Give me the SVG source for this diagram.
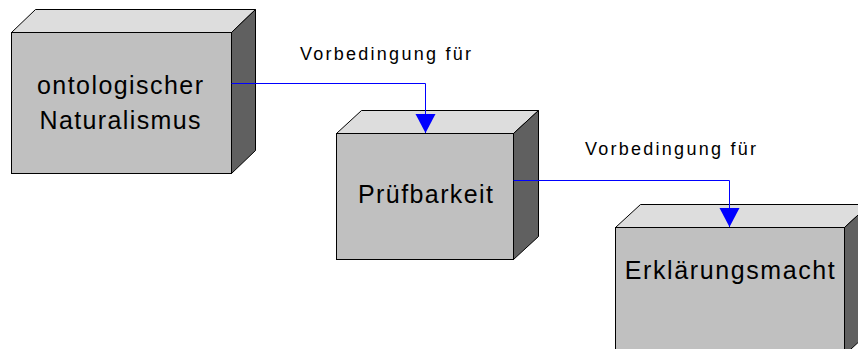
<svg xmlns="http://www.w3.org/2000/svg" width="858" height="349" viewBox="0 0 858 349">
<style>
  .front { fill: #C0C0C0; stroke: #000; stroke-width: 1; }
  .top { fill: #DDDDDD; stroke: #000; stroke-width: 1; stroke-linejoin: miter; }
  .side { fill: #606060; stroke: #000; stroke-width: 1; }
  .ntext { font-family: "Liberation Sans", Arial, sans-serif; font-size: 25px; fill: #000; text-anchor: middle; }
  .ltext { font-family: "Liberation Sans", Arial, sans-serif; font-size: 18px; fill: #000; }
  .conn { fill: none; stroke: #0000FF; stroke-width: 1; marker-end: url(#arrow); }
</style>
<defs>
  <marker id="arrow" markerUnits="userSpaceOnUse" markerWidth="20" markerHeight="21" viewBox="0 0 20 21" refX="19" refY="10.5" orient="auto">
    <path d="M0,0.5 L19,10.5 L0,20.5 z" fill="#0000FF"/>
  </marker>
</defs>
<rect width="858" height="349" fill="#FFFFFF"/>

<g id="node-ontologischer-naturalismus">
  <polygon class="top" points="11.5,32.5 35.5,9.5 255.5,9.5 231.5,32.5"/>
  <polygon class="side" points="231.5,32.5 255.5,9.5 255.5,150.5 231.5,173.5"/>
  <rect class="front" x="11.5" y="32.5" width="220" height="141"/>
  <text class="ntext" x="120" y="93.5" textLength="166" lengthAdjust="spacing">ontologischer</text>
  <text class="ntext" x="120" y="129" textLength="161" lengthAdjust="spacing">Naturalismus</text>
</g>

<g id="node-pruefbarkeit">
  <polygon class="top" points="336.5,133.5 361.5,110.5 538.5,110.5 513.5,133.5"/>
  <polygon class="side" points="513.5,133.5 538.5,110.5 538.5,236.5 513.5,259.5"/>
  <rect class="front" x="336.5" y="133.5" width="177" height="126"/>
  <text class="ntext" x="425.5" y="203" textLength="135" lengthAdjust="spacing">Prüfbarkeit</text>
</g>

<g id="node-erklaerungsmacht">
  <polygon class="top" points="615.5,227.5 640.5,204.5 869.5,204.5 844.5,227.5"/>
  <polygon class="side" points="844.5,227.5 869.5,204.5 869.5,332 844.5,355"/>
  <rect class="front" x="615.5" y="227.5" width="229" height="127.5"/>
  <text class="ntext" x="729.8" y="278.5" textLength="210" lengthAdjust="spacing">Erklärungsmacht</text>
</g>

<g id="connectors">
  <polyline class="conn" points="231.5,83.5 425.5,83.5 425.5,133"/>
  <polyline class="conn" points="513.5,180.5 729.5,180.5 729.5,227"/>
  <text class="ltext" x="300" y="60" textLength="171" lengthAdjust="spacing">Vorbedingung für</text>
  <text class="ltext" x="585" y="155" textLength="171" lengthAdjust="spacing">Vorbedingung für</text>
</g>
</svg>
